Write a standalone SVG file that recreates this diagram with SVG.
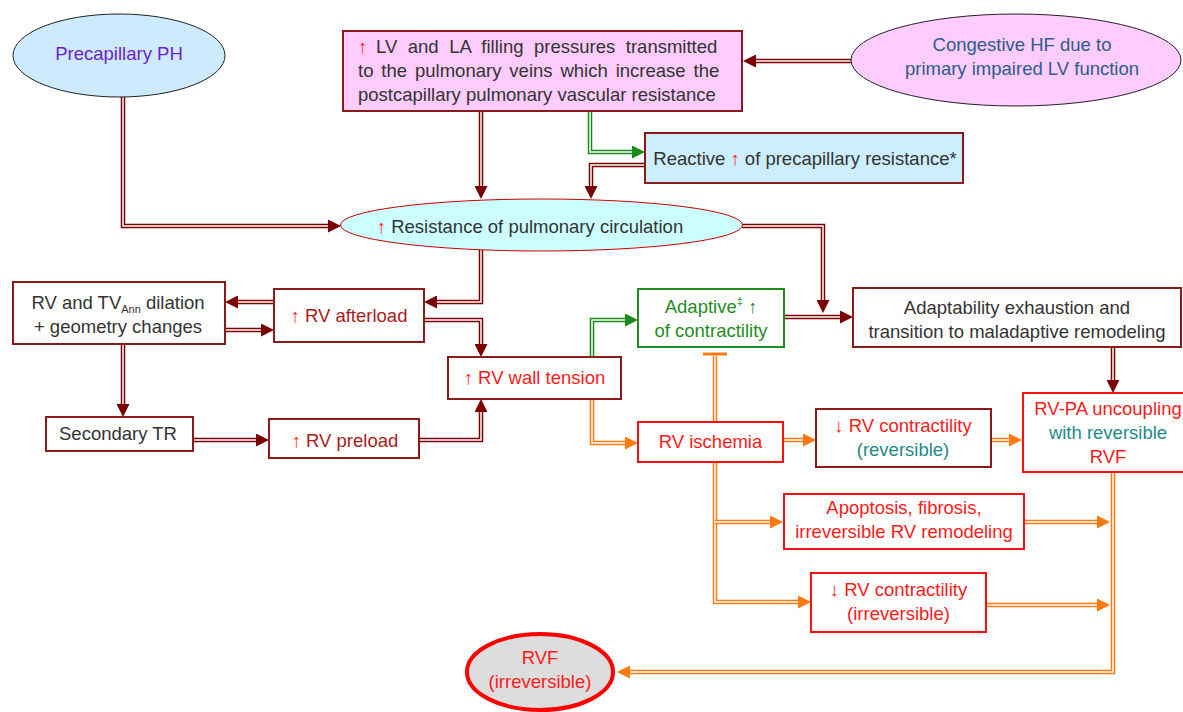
<svg xmlns="http://www.w3.org/2000/svg" width="1183" height="712" viewBox="0 0 1183 712">
<style>
text{font-family:"Liberation Sans",Arial,Helvetica,sans-serif;font-size:18.5px;fill:#333}
.c{text-anchor:middle}
.red{fill:#ff1a1a}
.dred{fill:#a81c1c}
.teal{fill:#1f8a8a}
.grn{fill:#1e8c1e}
.box{fill:#fff;stroke:#8b1a1a;stroke-width:2}
.rbox{fill:#fff;stroke:#ff1010;stroke-width:2}
.m{fill:none;stroke:#7a0000;stroke-width:4.5}
.g{fill:none;stroke:#1a8a1a;stroke-width:4.5}
.o{fill:none;stroke:#ff7a10;stroke-width:4.5}
.w{fill:none;stroke:#fff;stroke-width:1.5}
</style>
<defs>
<marker id="am" markerUnits="userSpaceOnUse" markerWidth="14" markerHeight="13" refX="0" refY="6.5" orient="auto" viewBox="0 0 14 13"><path d="M0,0 L13,6.5 L0,13 z" fill="#7a0000"/></marker>
<marker id="ag" markerUnits="userSpaceOnUse" markerWidth="14" markerHeight="13" refX="0" refY="6.5" orient="auto" viewBox="0 0 14 13"><path d="M0,0 L13,6.5 L0,13 z" fill="#1a8a1a"/></marker>
<marker id="ao" markerUnits="userSpaceOnUse" markerWidth="14" markerHeight="13" refX="0" refY="6.5" orient="auto" viewBox="0 0 14 13"><path d="M0,0 L13,6.5 L0,13 z" fill="#ff7a10"/></marker>
</defs>

<g id="connectors">
<path class="m" d="M123,97 V226 H328" marker-end="url(#am)"/><path class="w" d="M123,97 V226 H328"/>
<path class="m" d="M851,61 H756" marker-end="url(#am)"/><path class="w" d="M851,61 H756"/>
<path class="m" d="M481,111 V186" marker-end="url(#am)"/><path class="w" d="M481,111 V186"/>
<path class="m" d="M645,165 H591 V186" marker-end="url(#am)"/><path class="w" d="M645,165 H591 V186"/>
<path class="m" d="M742,226 H823 V300" marker-end="url(#am)"/><path class="w" d="M742,226 H823 V300"/>
<path class="m" d="M481,250 V302 H437" marker-end="url(#am)"/><path class="w" d="M481,250 V302 H437"/>
<path class="m" d="M274,302 H238" marker-end="url(#am)"/><path class="w" d="M274,302 H238"/>
<path class="m" d="M225,330 H261" marker-end="url(#am)"/><path class="w" d="M225,330 H261"/>
<path class="m" d="M424,320 H481 V344" marker-end="url(#am)"/><path class="w" d="M424,320 H481 V344"/>
<path class="m" d="M123,344 V404" marker-end="url(#am)"/><path class="w" d="M123,344 V404"/>
<path class="m" d="M193,440 H256" marker-end="url(#am)"/><path class="w" d="M193,440 H256"/>
<path class="m" d="M419,440 H481 V412" marker-end="url(#am)"/><path class="w" d="M419,440 H481 V412"/>
<path class="m" d="M784,317 H840" marker-end="url(#am)"/><path class="w" d="M784,317 H840"/>
<path class="m" d="M1113,347 V380" marker-end="url(#am)"/><path class="w" d="M1113,347 V380"/>

<path class="g" d="M590,111 V152 H632" marker-end="url(#ag)"/><path class="w" d="M590,111 V152 H632"/>
<path class="g" d="M592,357 V320 H625" marker-end="url(#ag)"/><path class="w" d="M592,357 V320 H625"/>

<path class="o" d="M592,399 V443 H625" marker-end="url(#ao)"/><path class="w" d="M592,399 V443 H625"/>
<path class="o" d="M783,440 H803" marker-end="url(#ao)"/><path class="w" d="M783,440 H803"/>
<path class="o" d="M991,440 H1009" marker-end="url(#ao)"/><path class="w" d="M991,440 H1009"/>
<path class="o" d="M715,462 V602 H798" marker-end="url(#ao)"/><path class="w" d="M715,462 V602 H798"/>
<path class="o" d="M715,522 H770" marker-end="url(#ao)"/><path class="w" d="M715,522 H770"/>
<path class="o" d="M1024,522 H1097" marker-end="url(#ao)"/><path class="w" d="M1024,522 H1097"/>
<path class="o" d="M986,605 H1097" marker-end="url(#ao)"/><path class="w" d="M986,605 H1097"/>
<path class="o" d="M1113,472 V672 H630" marker-end="url(#ao)"/><path class="w" d="M1113,472 V672 H630"/>
<path class="o" d="M715,422 V356"/><path class="w" d="M715,422 V356"/>
<path d="M703,354 H727" stroke="#ff7a10" stroke-width="3" fill="none"/>
</g>

<g id="precap">
<ellipse cx="119" cy="55.5" rx="106" ry="41.5" fill="#cdeafe" stroke="#222" stroke-width="1"/>
<text class="c" x="119" y="60" style="fill:#6a1fd0">Precapillary PH</text>
</g>

<g id="filling">
<rect x="343" y="31" width="399" height="80" fill="#ffccff" stroke="#8b1a1a" stroke-width="2"/>
<text x="358" y="52.5"><tspan class="red">↑</tspan><tspan x="376" word-spacing="5.4">LV and LA filling pressures transmitted</tspan></text>
<text x="358" y="76.5" word-spacing="2.8">to the pulmonary veins which increase the</text>
<text x="358" y="100.5">postcapillary pulmonary vascular resistance</text>
</g>

<g id="congestive">
<ellipse cx="1016" cy="60" rx="165" ry="46" fill="#ffccff" stroke="#222" stroke-width="1"/>
<text class="c" x="1022" y="50.5" style="fill:#2d5c8a">Congestive HF due to</text>
<text class="c" x="1022" y="74.5" style="fill:#2d5c8a">primary impaired LV function</text>
</g>

<g id="reactive">
<rect x="645" y="133" width="318" height="50" fill="#cceeff" stroke="#8b1a1a" stroke-width="2"/>
<text class="c" x="805" y="165">Reactive <tspan class="red">↑</tspan> of precapillary resistance*</text>
</g>

<g id="resistance">
<ellipse cx="541.5" cy="225" rx="201" ry="26" fill="#ccffff" stroke="#cc0000" stroke-width="1"/>
<text class="c" x="530" y="233"><tspan class="red">↑</tspan> Resistance of pulmonary circulation</text>
</g>

<g id="dilation">
<rect x="13" y="282" width="212" height="62" class="box"/>
<text class="c" x="118" y="309.3">RV and TV<tspan font-size="11" dy="4">Ann</tspan><tspan dy="-4"> dilation</tspan></text>
<text class="c" x="118" y="333.3">+ geometry changes</text>
</g>

<g id="afterload">
<rect x="274" y="289" width="150" height="53" class="box"/>
<text class="c dred" x="349" y="321.7"><tspan class="red">↑</tspan> RV afterload</text>
</g>

<g id="walltension">
<rect x="448" y="357" width="173" height="42" class="box"/>
<text class="c red" x="534.5" y="384.3">↑ RV wall tension</text>
</g>

<g id="secondarytr">
<rect x="46" y="417" width="147" height="34" class="box"/>
<text class="c" x="118" y="440">Secondary TR</text>
</g>

<g id="preload">
<rect x="269" y="419" width="150" height="39" class="box"/>
<text class="c dred" x="345" y="446.7"><tspan class="red">↑</tspan> RV preload</text>
</g>

<g id="adaptive">
<rect x="638" y="289" width="146" height="58" fill="#fff" stroke="#1e8c1e" stroke-width="2"/>
<text class="c grn" x="711" y="312.7">Adaptive<tspan font-size="11" dy="-8">‡</tspan><tspan dy="8"> ↑</tspan></text>
<text class="c grn" x="711" y="336.7">of contractility</text>
</g>

<g id="adaptability">
<rect x="853" y="288" width="328" height="59" class="box"/>
<text class="c" x="1017" y="314">Adaptability exhaustion and</text>
<text class="c" x="1017" y="338">transition to maladaptive remodeling</text>
</g>

<g id="ischemia">
<rect x="638" y="422" width="145" height="40" class="rbox"/>
<text class="c red" x="710.5" y="448.3">RV ischemia</text>
</g>

<g id="contr-rev">
<rect x="816" y="409" width="175" height="58" class="box"/>
<text class="c red" x="903" y="431.7">↓ RV contractility</text>
<text class="c teal" x="903" y="455.7">(reversible)</text>
</g>

<g id="uncoupling">
<rect x="1023" y="393" width="171" height="79" class="rbox"/>
<text class="c red" x="1108" y="415">RV-PA uncoupling</text>
<text class="c teal" x="1108" y="439">with reversible</text>
<text class="c red" x="1108" y="462.7">RVF</text>
</g>

<g id="apoptosis">
<rect x="784" y="494" width="240" height="55" class="rbox"/>
<text class="c red" x="904" y="514">Apoptosis, fibrosis,</text>
<text class="c red" x="904" y="538">irreversible RV remodeling</text>
</g>

<g id="contr-irr">
<rect x="811" y="573" width="175" height="59" class="rbox"/>
<text class="c red" x="898.5" y="596">↓ RV contractility</text>
<text class="c red" x="898.5" y="620">(irreversible)</text>
</g>

<g id="rvf">
<ellipse cx="540" cy="672" rx="73" ry="38" fill="#dddddd" stroke="#ff0000" stroke-width="4"/>
<text class="c red" x="540" y="664">RVF</text>
<text class="c red" x="540" y="688">(irreversible)</text>
</g>
</svg>
